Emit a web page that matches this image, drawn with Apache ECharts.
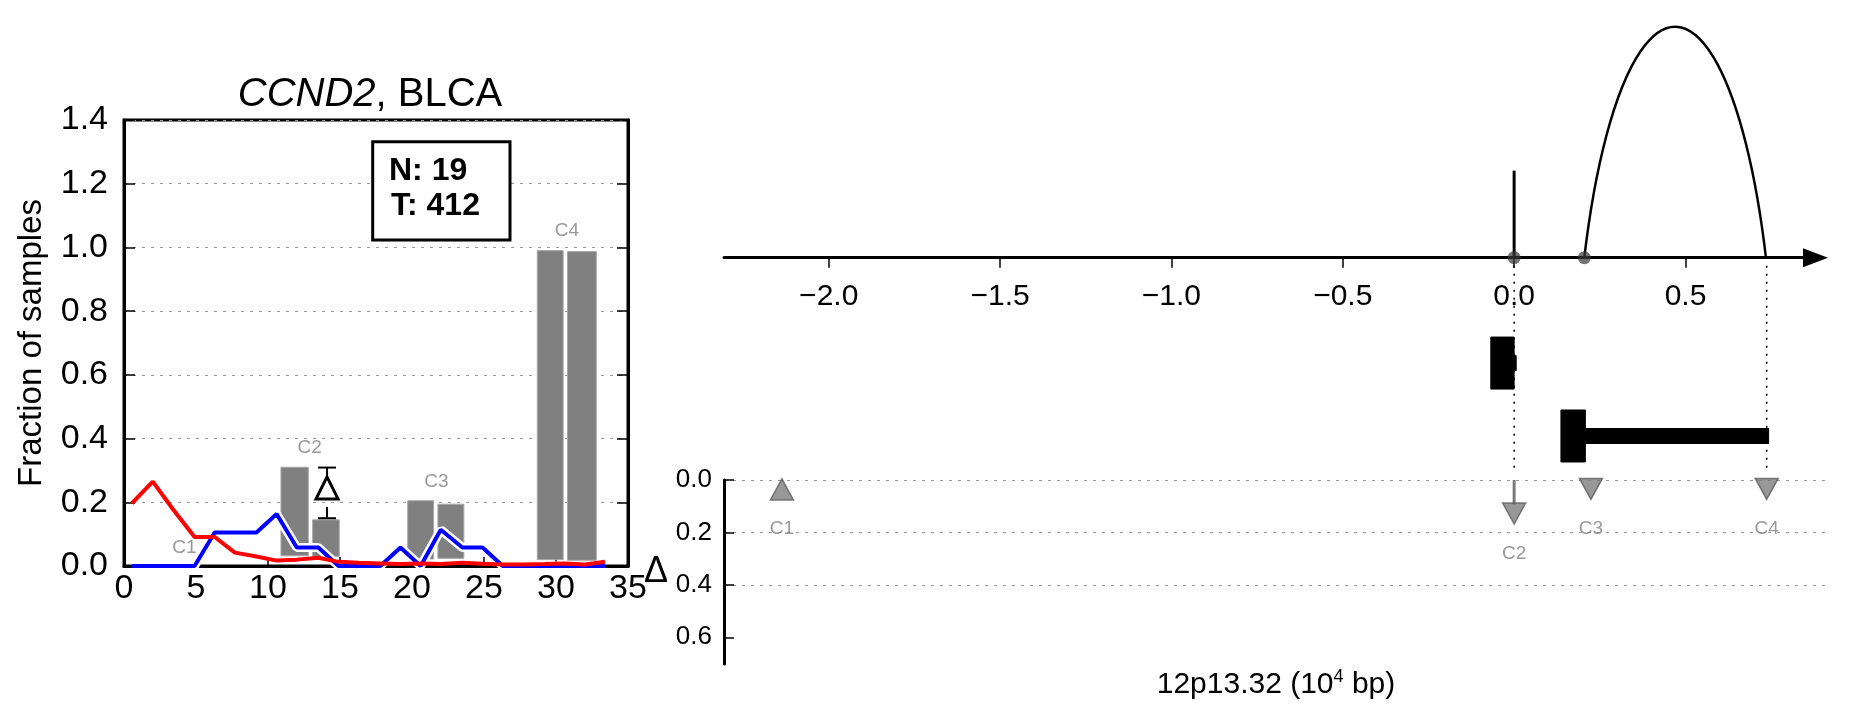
<!DOCTYPE html>
<html><head><meta charset="utf-8">
<script src="https://cdn.jsdelivr.net/npm/echarts@6/dist/echarts.min.js"></script>
<style>html,body{margin:0;padding:0;background:#fff}#c{width:1851px;height:718px}</style>
</head><body><div id="c"></div>
<script>
// ---------- Left panel data ----------
const binX = [0.55, 2.0, 3.4, 4.9, 6.3, 7.7, 9.2, 10.6, 12.0, 13.5, 14.9, 16.3, 17.8, 19.2, 20.6, 22.0, 23.5, 24.9, 26.3, 27.7, 29.2, 30.6, 32.0, 33.4];
const redFrac = [0.197, 0.265, 0.178, 0.091, 0.091, 0.042, 0.030, 0.017, 0.020, 0.026, 0.013, 0.010, 0.008, 0.006, 0.008, 0.006, 0.010, 0.007, 0.005, 0.005, 0.006, 0.008, 0.005, 0.013];
const blueFrac = [0, 0, 0, 0, 0.105, 0.105, 0.105, 0.163, 0.058, 0.058, 0, 0, 0, 0.058, 0, 0.114, 0.058, 0.058, 0, 0, 0, 0, 0, 0];
const barLeft = [10.9, 13.1, 19.7, 21.8, 28.7, 30.8];
const barRight = [12.8, 14.95, 21.5, 23.6, 30.5, 32.8];
const barTop = [0.31, 0.145, 0.205, 0.194, 0.99, 0.987];
const barBottom = [0.032, 0.030, 0.022, 0.024, 0.020, 0.018];
const clusterNames = ['C1', 'C2', 'C3', 'C4'];
const clusterLabelX = [4.2, 12.9, 21.7, 30.75];
const clusterLabelY = [0.056, 0.37, 0.265, 1.052];
const deltaBar = [14.1, 0.15, 0.309, 0.245]; // x, low, high, centre
const nCount = 19, tCount = 412;

// ---------- Right panel data ----------
const posTicks = [-2.0, -1.5, -1.0, -0.5, 0.0, 0.5];
const stemX = [0.0], stemH = [0.377];
const circleX = [0.0, 0.2048];
const arcStart = 0.2048, arcEnd = 0.7348, arcPeak = 1.0;
const geneStart = [-0.068, 0.0, 0.1366, 0.2078];
const geneEnd = [0.0, 0.006, 0.2078, 0.7426];
const geneLane = [0.526, 0.526, 0.198, 0.198];
const geneThick = [1, 0, 1, 0];
const guideX = [0.0, 0.737];
const deltaTicks = [0.0, 0.2, 0.4, 0.6];
const markerX = [-2.1366, 0.0, 0.2241, 0.737];
const markerY = [0.036, 0.128, 0.034, 0.034];
const markerDir = ['up', 'down', 'down', 'down'];

const FONT = "'Liberation Sans', Arial, Helvetica, sans-serif";
const chart = echarts.init(document.getElementById('c'));

const fmtPos = v => (v < 0 ? '\u2212' : '') + Math.abs(v).toFixed(1);

// right panel horizontal layout: shared position scale
const RX0 = 724, PXU = 342.7, XMIN = -2.3056;
const W_TOP = 1091.5, W_BOT = 1104;

const option = {
  animation: false,
  backgroundColor: '#fff',
  textStyle: { fontFamily: FONT },
  grid: [
    { left: 124, top: 120, width: 504, height: 446, show: true, borderColor: '#000', borderWidth: 3, backgroundColor: 'transparent' },
    { left: RX0, top: 26.7, width: W_TOP, height: 231 },
    { left: RX0, top: 480, width: W_BOT, height: 184 },
    { left: RX0, top: 257.7, width: W_TOP, height: 222.3 }
  ],
  xAxis: [
    { gridIndex: 0, type: 'value', min: 0, max: 35, interval: 5,
      axisLine: { lineStyle: { color: '#000', width: 3 } },
      axisTick: { inside: true, length: 9, lineStyle: { color: '#000', width: 1.5 } },
      axisLabel: { color: '#000', fontSize: 34, margin: 6, fontFamily: FONT },
      splitLine: { show: false } },
    { gridIndex: 1, type: 'value', min: XMIN, max: XMIN + W_TOP / PXU, position: 'bottom',
      axisLine: { onZero: false, symbol: ['none', 'triangle'], symbolSize: [19, 25], lineStyle: { color: '#000', width: 3 } },
      axisTick: { customValues: posTicks, length: 10, lineStyle: { color: '#000', width: 1.5 } },
      axisLabel: { customValues: posTicks, formatter: fmtPos, color: '#000', fontSize: 30, margin: 24, fontFamily: FONT },
      splitLine: { show: false } },
    { gridIndex: 2, type: 'value', min: XMIN, max: XMIN + W_BOT / PXU,
      axisLine: { show: false }, axisTick: { show: false }, axisLabel: { show: false }, splitLine: { show: false },
      name: '12p13.32 (10{s|4} bp)', nameLocation: 'middle', nameGap: 4,
      nameTextStyle: { color: '#000', fontSize: 30, fontFamily: FONT, lineHeight: 34,
        rich: { s: { fontSize: 18, fontFamily: FONT, verticalAlign: 'top', lineHeight: 16, color: '#000' } } } },
    { gridIndex: 3, type: 'value', min: XMIN, max: XMIN + W_TOP / PXU, show: false }
  ],
  yAxis: [
    { gridIndex: 0, type: 'value', min: 0, max: 1.4, interval: 0.2,
      axisLine: { lineStyle: { color: '#000', width: 3 } },
      axisTick: { inside: true, length: 11, lineStyle: { color: '#000', width: 1.5 } },
      axisLabel: { color: '#000', fontSize: 34, margin: 16, formatter: v => v.toFixed(1), fontFamily: FONT },
      splitLine: { show: true, lineStyle: { color: '#999', width: 1, type: [3, 6] } },
      name: 'Fraction of samples', nameLocation: 'middle', nameGap: 76,
      nameTextStyle: { color: '#000', fontSize: 33, fontFamily: FONT } },
    { gridIndex: 0, type: 'value', position: 'right', min: 0, max: 1.4, interval: 0.2,
      axisLine: { lineStyle: { color: '#000', width: 3 } },
      axisTick: { inside: true, length: 11, lineStyle: { color: '#000', width: 1.5 } },
      axisLabel: { show: false }, splitLine: { show: false } },
    { gridIndex: 1, type: 'value', min: 0, max: 1, show: false },
    { gridIndex: 2, type: 'value', inverse: true, min: 0, max: 0.702,
      axisLine: { onZero: false, lineStyle: { color: '#000', width: 3 } },
      axisTick: { inside: true, length: 10, customValues: deltaTicks, lineStyle: { color: '#000', width: 1.5 } },
      axisLabel: { customValues: deltaTicks, formatter: v => v.toFixed(1), color: '#000', fontSize: 26, margin: 12, fontFamily: FONT },
      splitLine: { show: true, showMaxLine: false, lineStyle: { color: '#999', width: 1, type: [3, 6] } },
      name: '\u0394', nameLocation: 'middle', nameRotate: 0, nameGap: 56,
      nameTextStyle: { color: '#000', fontSize: 36, fontFamily: FONT } },
    { gridIndex: 3, type: 'value', min: 0, max: 1, show: false }
  ],
  graphic: [
    { type: 'text', x: 370, y: 95, z: 100,
      style: { text: '{i|CCND2}, BLCA', fontSize: 40, fontFamily: FONT, fill: '#000', align: 'center', verticalAlign: 'middle',
        rich: { i: { fontStyle: 'italic', fontSize: 40, fontFamily: FONT } } } },
    { type: 'rect', z: 100, shape: { x: 372.7, y: 141.7, width: 137.3, height: 98.3 },
      style: { fill: '#fff', stroke: '#000', lineWidth: 3 } },
    { type: 'text', x: 389, y: 171, z: 101,
      style: { text: 'N: ' + nCount, fontSize: 32, fontWeight: 'bold', fontFamily: FONT, fill: '#000', verticalAlign: 'middle' } },
    { type: 'text', x: 391, y: 206, z: 101,
      style: { text: 'T: ' + tCount, fontSize: 32, fontWeight: 'bold', fontFamily: FONT, fill: '#000', verticalAlign: 'middle' } }
  ],
  series: [
    // ----- left panel -----
    { type: 'custom', xAxisIndex: 0, yAxisIndex: 0, z: 2,
      data: barLeft.map((l, i) => [l, barRight[i], barTop[i], barBottom[i]]),
      renderItem: (params, api) => {
        const p1 = api.coord([api.value(0), api.value(3)]);
        const p2 = api.coord([api.value(1), api.value(2)]);
        return { type: 'rect', shape: { x: p1[0], y: p2[1], width: p2[0] - p1[0], height: p1[1] - p2[1] },
          style: { fill: '#808080', stroke: '#a8a8a8', lineWidth: 1 } };
      } },
    { type: 'line', xAxisIndex: 0, yAxisIndex: 0, z: 3, symbol: 'none', silent: true,
      data: binX.map((x, i) => [x, blueFrac[i]]), lineStyle: { color: '#fff', width: 9 } },
    { type: 'line', xAxisIndex: 0, yAxisIndex: 0, z: 4, symbol: 'none', silent: true,
      data: binX.map((x, i) => [x, blueFrac[i]]), lineStyle: { color: '#0000ff', width: 4 } },
    { type: 'line', xAxisIndex: 0, yAxisIndex: 0, z: 5, symbol: 'none', silent: true,
      data: binX.map((x, i) => [x, redFrac[i]]), lineStyle: { color: '#ff0000', width: 4 } },
    { type: 'custom', xAxisIndex: 0, yAxisIndex: 0, z: 6, data: [deltaBar],
      renderItem: (params, api) => {
        const x = api.value(0);
        const lo = api.coord([x, api.value(1)]), hi = api.coord([x, api.value(2)]), mid = api.coord([x, api.value(3)]);
        const s = 11, cap = 9, st = { stroke: '#000', lineWidth: 2 };
        return { type: 'group', children: [
          { type: 'line', shape: { x1: hi[0], y1: hi[1], x2: hi[0], y2: mid[1] - s }, style: st },
          { type: 'line', shape: { x1: lo[0], y1: mid[1] + s + 8, x2: lo[0], y2: lo[1] }, style: st },
          { type: 'line', shape: { x1: hi[0] - cap, y1: hi[1], x2: hi[0] + cap, y2: hi[1] }, style: st },
          { type: 'line', shape: { x1: lo[0] - cap, y1: lo[1], x2: lo[0] + cap, y2: lo[1] }, style: st },
          { type: 'polygon', shape: { points: [[mid[0], mid[1] - s], [mid[0] + s, mid[1] + s], [mid[0] - s, mid[1] + s]] },
            style: { fill: '#fff', stroke: '#000', lineWidth: 3 } }
        ] };
      } },
    { type: 'scatter', xAxisIndex: 0, yAxisIndex: 0, z: 7, symbolSize: 1, silent: true,
      itemStyle: { color: 'transparent' },
      label: { show: true, position: 'inside', color: '#808080', fontSize: 19, fontFamily: FONT },
      data: clusterLabelX.map((x, i) => ({ value: [x, clusterLabelY[i]], label: { formatter: clusterNames[i] } })) },

    // ----- right top panel -----
    { type: 'custom', xAxisIndex: 1, yAxisIndex: 2, z: 3,
      data: stemX.map((x, i) => [x, stemH[i]]),
      renderItem: (params, api) => {
        const a = api.coord([api.value(0), 0]), b = api.coord([api.value(0), api.value(1)]);
        return { type: 'line', shape: { x1: a[0], y1: a[1], x2: b[0], y2: b[1] }, style: { stroke: '#000', lineWidth: 3 } };
      } },
    { type: 'custom', xAxisIndex: 1, yAxisIndex: 2, z: 3,
      data: [[arcStart, arcEnd, arcPeak]],
      renderItem: (params, api) => {
        const s = api.value(0), e = api.value(1);
        const p1 = api.coord([s, 0]), p2 = api.coord([e, 0]), pt = api.coord([(s + e) / 2, api.value(2)]);
        const h = (p2[0] - p1[0]) / 2, H = p1[1] - pt[1], k = 0.906;
        const rx = h / k, ry = H / (1 - Math.sqrt(1 - k * k));
        return { type: 'path', shape: { pathData: 'M' + p1[0] + ' ' + p1[1] + ' A' + rx + ' ' + ry + ' 0 0 1 ' + p2[0] + ' ' + p2[1] },
          style: { fill: 'none', stroke: '#000', lineWidth: 2.5 } };
      } },
    { type: 'scatter', xAxisIndex: 1, yAxisIndex: 2, z: 5, symbolSize: 13, silent: true,
      itemStyle: { color: 'rgba(55,55,55,0.88)' },
      data: circleX.map(x => [x, 0]) },

    // ----- gene track (between panels) -----
    { type: 'custom', xAxisIndex: 3, yAxisIndex: 4, z: 2,
      data: guideX.map(x => [x]),
      renderItem: (params, api) => {
        const a = api.coord([api.value(0), 1]);
        const cs = params.coordSys;
        return { type: 'line', shape: { x1: a[0], y1: cs.y + 8, x2: a[0], y2: cs.y + cs.height - 7 },
          style: { stroke: '#000', lineWidth: 1.5, lineDash: [2, 6] } };
      } },
    { type: 'custom', xAxisIndex: 3, yAxisIndex: 4, z: 4,
      data: geneStart.map((s, i) => [s, geneEnd[i], geneLane[i], geneThick[i]]),
      renderItem: (params, api) => {
        const a = api.coord([api.value(0), api.value(2)]), b = api.coord([api.value(1), api.value(2)]);
        const hh = api.value(3) ? 26 : 7.5;
        return { type: 'rect', shape: { x: a[0], y: a[1] - hh, width: b[0] - a[0], height: 2 * hh },
          style: { fill: '#000', stroke: '#000', lineWidth: 1 } };
      } },

    // ----- right bottom panel -----
    { type: 'custom', xAxisIndex: 2, yAxisIndex: 3, z: 3,
      data: markerX.map((x, i) => [x, markerY[i]]),
      renderItem: (params, api) => {
        const a = api.coord([api.value(0), 0]), b = api.coord([api.value(0), api.value(1)]);
        return { type: 'line', shape: { x1: a[0], y1: a[1], x2: b[0], y2: b[1] - 9 }, style: { stroke: '#7a7a7a', lineWidth: 3 } };
      } },
    { type: 'scatter', xAxisIndex: 2, yAxisIndex: 3, z: 4, symbol: 'triangle', symbolSize: [23, 21], silent: true,
      itemStyle: { color: 'rgba(115,115,115,0.92)', borderColor: '#5e5e5e', borderWidth: 1.5 },
      label: { show: true, position: 'bottom', distance: 19, color: '#808080', fontSize: 19, fontFamily: FONT },
      data: markerX.map((x, i) => ({ value: [x, markerY[i]], symbolRotate: markerDir[i] === 'down' ? 180 : 0,
        label: { formatter: clusterNames[i] } })) }
  ]
};
chart.setOption(option);
</script></body></html>
